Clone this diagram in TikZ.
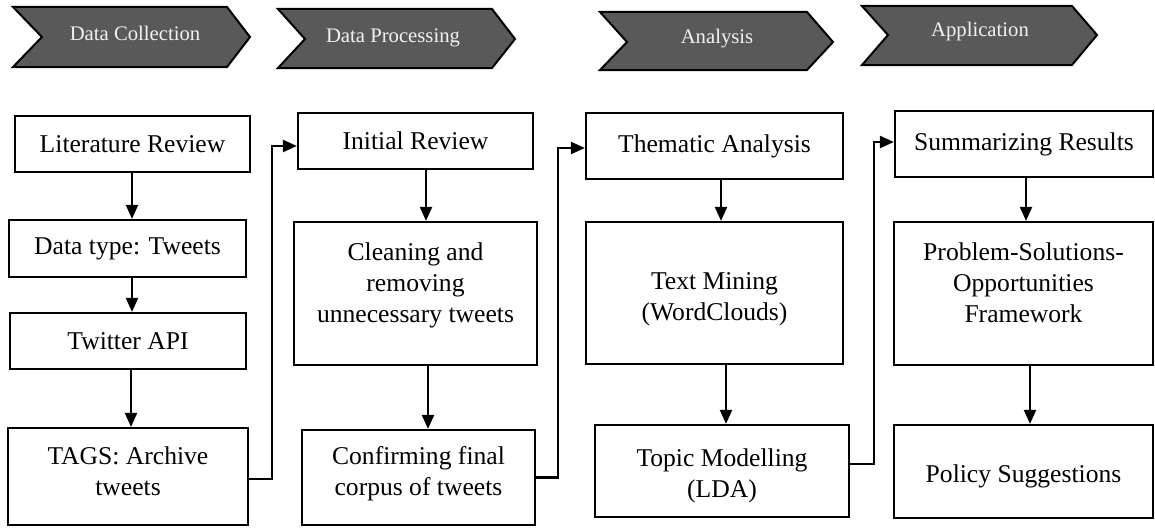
\documentclass[tikz,border=0pt]{standalone}
\usepackage{fontspec}
\setmainfont{Liberation Serif}
\usetikzlibrary{arrows.meta,calc}
\definecolor{bannergray}{HTML}{595959}
\definecolor{bannertext}{HTML}{F2F2F2}
\tikzset{
  banner/.style={draw=black, line width=2pt, fill=bannergray, line join=miter},
  bannerlabel/.style={text=bannertext, font=\fontsize{20.7}{24}\selectfont, anchor=base, inner sep=0pt},
  stepbox/.style={draw=black, line width=2.2pt, fill=white, align=center,
    font=\fontsize{25.6}{31}\selectfont, inner sep=2pt},
  flow/.style={line width=2.2pt, -{Triangle[length=14pt,width=12pt]}}
}
\begin{document}
\begin{tikzpicture}[x=1pt, y=-1pt]
\useasboundingbox (0,0) rectangle (1155,527);

% stage banners
\draw[banner] (13,7) -- (227,7) -- (250,37) -- (227,67) -- (13,67) -- (42,37) -- cycle;
\node[bannerlabel] (s1) at (135,41) {Data Collection};
\draw[banner] (278,9) -- (492,9) -- (515,39) -- (492,68) -- (278,68) -- (305,39) -- cycle;
\node[bannerlabel] (s2) at (393,42) {Data Processing};
\draw[banner] (600,12) -- (807,12) -- (833,42) -- (807,70) -- (600,70) -- (627,42) -- cycle;
\node[bannerlabel] (s3) at (717,44) {Analysis};
\draw[banner] (862,6) -- (1072,6) -- (1097,35) -- (1072,65) -- (862,65) -- (888,35) -- cycle;
\node[bannerlabel] (s4) at (980,37) {Application};

% column 1: data collection
\node[stepbox, minimum width=235pt, minimum height=56pt] (lr) at (132.5,144) {Literature Review};
\node[stepbox, minimum width=237pt, minimum height=57pt] (dt) at (127.5,248.5) {Data type: Tweets};
\node[stepbox, minimum width=236pt, minimum height=56pt] (tw) at (128,341) {Twitter API};
\node[stepbox, minimum width=240pt, minimum height=97pt, text depth=10pt] (tg) at (128,476.5) {TAGS: Archive\\tweets};

% column 2: data processing
\node[stepbox, minimum width=235pt, minimum height=56pt] (ir) at (415.5,141) {Initial Review};
\node[stepbox, minimum width=243pt, minimum height=143pt, text depth=22pt] (cl) at (415.5,293.5) {Cleaning and\\removing\\unnecessary tweets};
\node[stepbox, minimum width=233pt, minimum height=95pt, text depth=13pt] (cf) at (418.5,477.5) {Confirming final\\corpus of tweets};

% column 3: analysis
\node[stepbox, minimum width=257pt, minimum height=66pt] (th) at (714.5,146) {Thematic Analysis};
\node[stepbox, minimum width=257pt, minimum height=142pt, text height=61pt] (tm) at (714.5,293) {Text Mining\\(WordClouds)};
\node[stepbox, minimum width=254pt, minimum height=92pt, text height=59pt] (tp) at (722,471) {Topic Modelling\\(LDA)};

% column 4: application
\node[stepbox, minimum width=258pt, minimum height=66pt] (su) at (1024,144) {Summarizing Results};
\node[stepbox, minimum width=259pt, minimum height=143pt, text depth=22pt] (ps) at (1023.5,293.5) {Problem-Solutions-\\Opportunities\\Framework};
\node[stepbox, minimum width=259pt, minimum height=93pt, text height=27pt] (po) at (1023.5,471.5) {Policy Suggestions};

% vertical guides for the arrows inside each column
\coordinate (a1) at (132,0);
\coordinate (a2) at (131,0);
\coordinate (b1) at (426,0);
\coordinate (b2) at (428,0);
\coordinate (c1) at (721,0);
\coordinate (c2) at (726,0);
\coordinate (d1) at (1026,0);
\coordinate (d2) at (1030,0);

\draw[flow] (lr.south -| a1) -- (dt.north -| a1);
\draw[flow] (dt.south -| a1) -- (tw.north -| a1);
\draw[flow] (tw.south -| a2) -- (tg.north -| a2);

\draw[flow] (ir.south -| b1) -- (cl.north -| b1);
\draw[flow] (cl.south -| b2) -- (cf.north -| b2);

\draw[flow] (th.south -| c1) -- (tm.north -| c1);
\draw[flow] (tm.south -| c2) -- (tp.north -| c2);

\draw[flow] (su.south -| d1) -- (ps.north -| d1);
\draw[flow] (ps.south -| d2) -- (po.north -| d2);

% links between columns
\draw[flow, line join=miter] ([yshift=-2.5pt]tg.east) -- ++(23,0) |- ([yshift=-5pt]ir.west);
\draw[flow, line join=miter] (cf.east) -- ++(22,0) |- ([yshift=-2pt]th.west);
\draw[flow, line join=miter] ([yshift=7pt]tp.east) -- ++(24,0) |- ([yshift=2pt]su.west);
\end{tikzpicture}
\end{document}
